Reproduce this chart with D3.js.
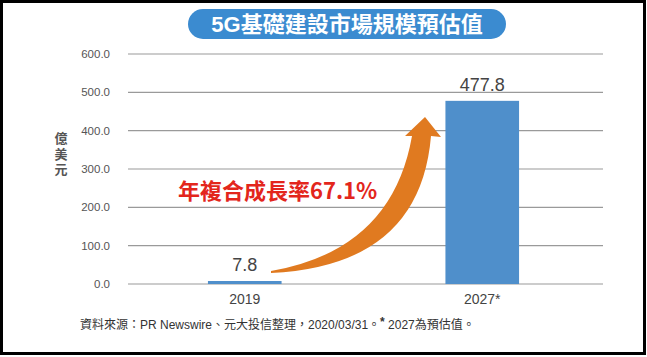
<!DOCTYPE html>
<html><head><meta charset="utf-8">
<script src="https://cdn.jsdelivr.net/npm/d3@7"></script>
<style>
body{margin:0;background:#fff;}
svg{display:block;font-family:"Liberation Sans","Noto Sans CJK TC",Arial,sans-serif;}
</style></head>
<body>
<script>
const title = "5G基礎建設市場規模預估值";
const categories = ["2019", "2027*"];
const values = [7.8, 477.8];
const valueLabels = ["7.8", "477.8"];
const yTicks = [0, 100, 200, 300, 400, 500, 600];
const yLabel = "億美元";
const cagrText = "年複合成長率67.1%";
const sourceText = "資料來源：PR Newswire、元大投信整理，2020/03/31。";
const noteText = " 2027為預估值。";

const W = 647, H = 357;
const svg = d3.select("body").append("svg").attr("width", W).attr("height", H);

// frame
svg.append("rect").attr("x", 1.5).attr("y", 1.5).attr("width", 643).attr("height", 352)
  .attr("fill", "#fff").attr("stroke", "#000").attr("stroke-width", 3);

// title pill
svg.append("rect").attr("x", 188).attr("y", 9).attr("width", 318).attr("height", 30)
  .attr("rx", 15).attr("fill", "#3b8bd0");
svg.append("text").attr("x", 347).attr("y", 31.5).attr("text-anchor", "middle")
  .attr("fill", "#fff").attr("font-size", 22).attr("font-weight", "bold")
  .attr("font-family", "'Liberation Sans','Noto Sans CJK TC',sans-serif")
  .text(title);

const y = d3.scaleLinear().domain([0, 600]).range([284, 54]);
const x = d3.scaleBand().domain(categories).range([126, 601]).paddingInner(0.69).paddingOuter(0.345);

// gridlines
svg.append("g").selectAll("line").data(yTicks).join("line")
  .attr("x1", 128).attr("x2", 603)
  .attr("y1", d => y(d)).attr("y2", d => y(d))
  .attr("stroke", "#9a9a9a").attr("stroke-width", 1.2);

// y tick labels
svg.append("g").selectAll("text").data(yTicks).join("text")
  .attr("x", 110).attr("y", d => y(d) + 4).attr("text-anchor", "end")
  .attr("font-size", 11.5).attr("fill", "#555")
  .text(d => d3.format(".1f")(d));

// y axis label (vertical)
svg.append("text")
  .attr("x", 61).attr("y", 155).attr("text-anchor", "middle")
  .style("writing-mode", "vertical-rl")
  .attr("letter-spacing", 2.5)
  .attr("font-size", 13).attr("font-weight", "bold").attr("fill", "#555")
  .attr("font-family", "'Noto Sans CJK TC',sans-serif")
  .text(yLabel);

// bars
svg.append("g").selectAll("rect").data(values).join("rect")
  .attr("x", (d, i) => x(categories[i]))
  .attr("width", x.bandwidth())
  .attr("y", d => y(d))
  .attr("height", d => y(0) - y(d))
  .attr("fill", "#4f8fcb");

// value labels
svg.append("g").selectAll("text").data(values).join("text")
  .attr("x", (d, i) => x(categories[i]) + x.bandwidth() / 2)
  .attr("y", d => y(d) - 10)
  .attr("text-anchor", "middle").attr("font-size", 18).attr("fill", "#444")
  .text((d, i) => valueLabels[i]);

// category labels
svg.append("g").selectAll("text").data(categories).join("text")
  .attr("x", d => x(d) + x.bandwidth() / 2)
  .attr("y", 304).attr("text-anchor", "middle")
  .attr("font-size", 14).attr("fill", "#444")
  .text(d => d);

// arrow
const arrow = d3.path();
arrow.moveTo(271, 273);
arrow.quadraticCurveTo(420, 266, 431, 136);
arrow.lineTo(441, 137);
arrow.lineTo(425, 117);
arrow.lineTo(405, 136);
arrow.lineTo(412, 136);
arrow.quadraticCurveTo(392, 250, 271, 271);
arrow.closePath();
svg.append("path").attr("d", arrow.toString()).attr("fill", "#e07a20");

// CAGR text
svg.append("text").attr("x", 178).attr("y", 199)
  .attr("font-size", 22).attr("font-weight", "bold").attr("fill", "#e3261c")
  .attr("font-family", "'Noto Sans CJK TC','Liberation Sans',sans-serif")
  .text(cagrText);

// footnote
const fn = svg.append("text").attr("x", 80).attr("y", 329)
  .attr("font-size", 12).attr("fill", "#333")
  .attr("font-family", "'Liberation Sans','Noto Sans CJK TC',sans-serif");
fn.append("tspan").text(sourceText);
fn.append("tspan").attr("dy", -3).attr("font-weight", "bold").text("*");
fn.append("tspan").attr("dy", 3).text(noteText);
</script>
</body></html>
